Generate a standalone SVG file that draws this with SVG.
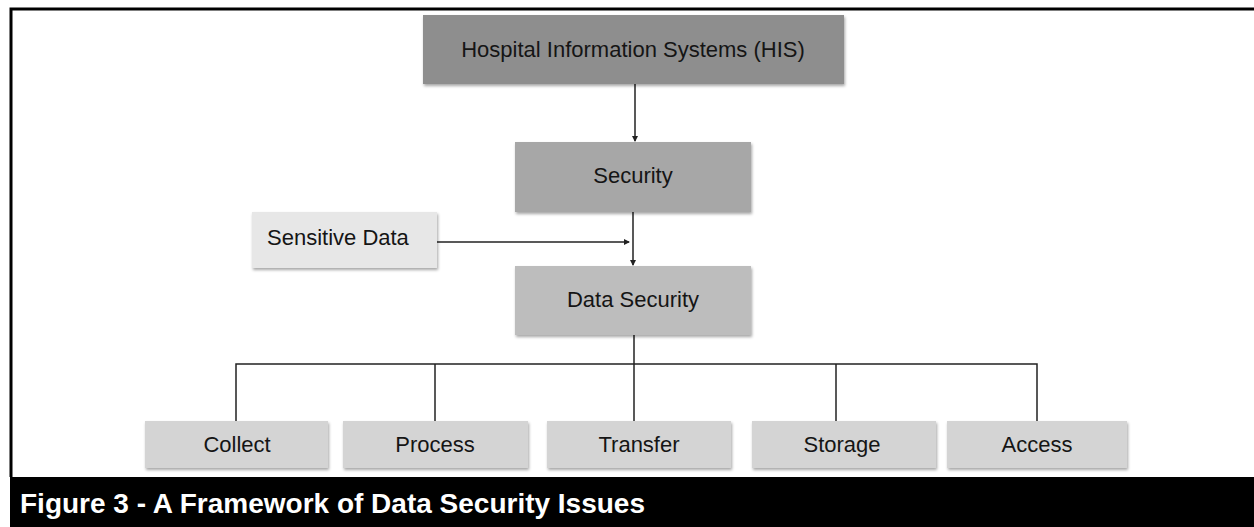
<svg xmlns="http://www.w3.org/2000/svg" width="1254" height="527" viewBox="0 0 1254 527">
<style>
.lbl{font-family:"Liberation Sans",Arial,sans-serif;font-size:22px;fill:#151515;text-anchor:middle}
.box{filter:url(#sh)}
.ln{stroke:#222;stroke-width:1.5;fill:none}
</style>
<defs>
<filter id="sh" x="-10%" y="-20%" width="120%" height="150%">
<feDropShadow dx="1" dy="2" stdDeviation="1.5" flood-color="#000" flood-opacity="0.35"/>
</filter>
<marker id="ah" viewBox="0 0 6 6" refX="5" refY="3" markerWidth="6" markerHeight="6" markerUnits="userSpaceOnUse" orient="auto">
<path d="M0,0 L6,3 L0,6 z" fill="#222"/>
</marker>
</defs>
<rect width="1254" height="527" fill="#fff"/>
<path d="M11,477 V9 H1254" stroke="#000" stroke-width="3" fill="none"/>
<rect x="10" y="477" width="1244" height="50" fill="#000"/>
<text x="20" y="513" font-family="'Liberation Sans',Arial,sans-serif" font-weight="bold" font-size="28" fill="#fff">Figure 3 - A Framework of Data Security Issues</text>

<g id="connectors">
<line class="ln" x1="635" y1="84" x2="635" y2="141" marker-end="url(#ah)"/>
<line class="ln" x1="435" y1="242" x2="629" y2="242" marker-end="url(#ah)"/>
<line class="ln" x1="633" y1="212" x2="633" y2="265" marker-end="url(#ah)"/>
<line class="ln" x1="634" y1="335" x2="634" y2="421"/>
<polyline class="ln" points="236,421 236,364 1037,364 1037,421"/>
<line class="ln" x1="435" y1="364" x2="435" y2="421"/>
<line class="ln" x1="836" y1="364" x2="836" y2="421"/>
</g>

<g id="his"><rect class="box" x="423" y="15" width="421" height="69" fill="#8e8e8e"/><text class="lbl" x="633" y="57">Hospital Information Systems (HIS)</text></g>
<g id="security"><rect class="box" x="515" y="142" width="236" height="70" fill="#a7a7a7"/><text class="lbl" x="633" y="183">Security</text></g>
<g id="sensitive"><rect class="box" x="252" y="212" width="185" height="56" fill="#e7e7e7"/><text class="lbl" x="267" y="245" style="text-anchor:start">Sensitive Data</text></g>
<g id="datasecurity"><rect class="box" x="515" y="266" width="236" height="69" fill="#bdbdbd"/><text class="lbl" x="633" y="307">Data Security</text></g>
<g id="collect"><rect class="box" x="145" y="421" width="183" height="47" fill="#d4d4d4"/><text class="lbl" x="237" y="452">Collect</text></g>
<g id="process"><rect class="box" x="343" y="421" width="185" height="47" fill="#d4d4d4"/><text class="lbl" x="435" y="452">Process</text></g>
<g id="transfer"><rect class="box" x="547" y="421" width="184" height="47" fill="#d4d4d4"/><text class="lbl" x="639" y="452">Transfer</text></g>
<g id="storage"><rect class="box" x="752" y="421" width="184" height="47" fill="#d4d4d4"/><text class="lbl" x="842" y="452">Storage</text></g>
<g id="access"><rect class="box" x="947" y="421" width="180" height="47" fill="#d4d4d4"/><text class="lbl" x="1037" y="452">Access</text></g>
</svg>
